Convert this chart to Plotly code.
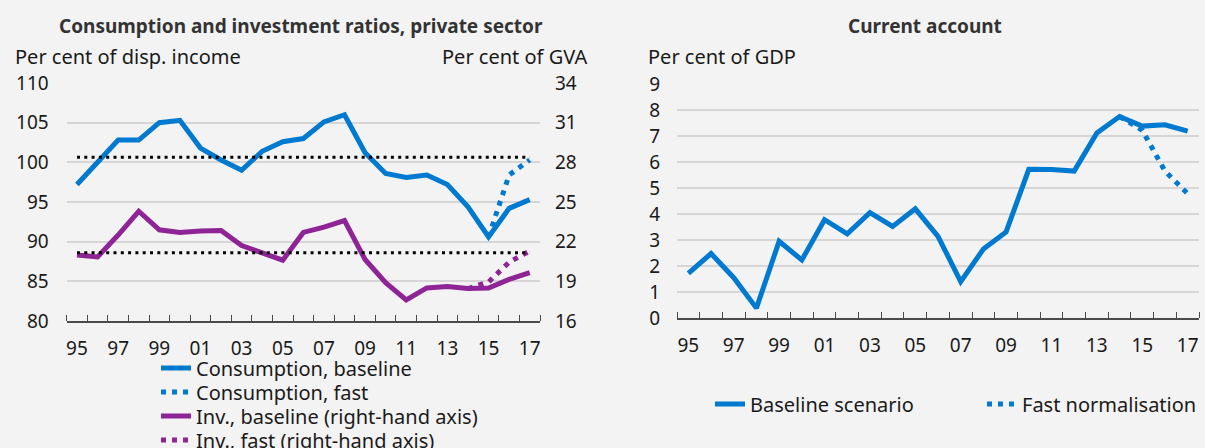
import plotly.graph_objects as go

# ---------------- data ----------------
years = [1995, 1996, 1997, 1998, 1999, 2000, 2001, 2002, 2003, 2004, 2005, 2006,
         2007, 2008, 2009, 2010, 2011, 2012, 2013, 2014, 2015, 2016, 2017]
tick_years = [1995, 1997, 1999, 2001, 2003, 2005, 2007, 2009, 2011, 2013, 2015, 2017]
tick_labels = ["95", "97", "99", "01", "03", "05", "07", "09", "11", "13", "15", "17"]

cons_base = [97.2, 99.9, 102.8, 102.8, 105.0, 105.3, 101.8, 100.3, 99.0, 101.4, 102.6, 103.0,
             105.1, 106.0, 101.2, 98.6, 98.1, 98.4, 97.2, 94.4, 90.6, 94.2, 95.3]
cons_fast_years = [2015, 2016, 2017]
cons_fast = [90.6, 98.4, 100.3]

inv_base = [21.0, 20.85, 22.5, 24.3, 22.9, 22.7, 22.8, 22.85, 21.7, 21.1, 20.6, 22.7,
            23.1, 23.6, 20.65, 18.9, 17.6, 18.5, 18.6, 18.45, 18.5, 19.15, 19.65]
inv_fast_years = [2014, 2015, 2016, 2017]
inv_fast = [18.45, 18.95, 20.45, 21.3]

avg_years = [1995, 2017]
cons_avg = [100.65, 100.65]
inv_avg = [21.17, 21.17]

ca_base = [1.72, 2.48, 1.55, 0.38, 2.95, 2.23, 3.78, 3.24, 4.05, 3.52, 4.2, 3.14,
           1.4, 2.65, 3.31, 5.72, 5.71, 5.65, 7.12, 7.75, 7.38, 7.43, 7.19]
ca_fast_years = [2014, 2015, 2016, 2017]
ca_fast = [7.75, 7.22, 5.65, 4.78]

# ---------------- style ----------------
W, H = 1205, 448
BLUE = "#0079D0"
PURPLE = "#8E2496"
FONT = "Noto Sans"
TXT = "#1a1a1a"
GRID = "#d6d6d6"
AXIS = "#4a4a4a"
BG = "#f3f3f3"
LW = 5
DOT = "5px,6px"
LEGFONT = dict(family=FONT, size=20, color=TXT)


def px_x(p):
    return p / W


def px_y(p):
    return (H - p) / H


fig = go.Figure()

# left chart
fig.add_trace(go.Scatter(x=years, y=cons_base, mode="lines", name="Consumption, baseline",
                         line=dict(color=BLUE, width=LW), xaxis="x", yaxis="y", legend="legend"))
fig.add_trace(go.Scatter(x=cons_fast_years, y=cons_fast, mode="lines", name="Consumption, fast",
                         line=dict(color=BLUE, width=LW, dash=DOT), xaxis="x", yaxis="y", legend="legend2"))
fig.add_trace(go.Scatter(x=years, y=inv_base, mode="lines", name="Inv., baseline (right-hand axis)",
                         line=dict(color=PURPLE, width=LW), xaxis="x", yaxis="y2", legend="legend3"))
fig.add_trace(go.Scatter(x=inv_fast_years, y=inv_fast, mode="lines", name="Inv., fast (right-hand axis)",
                         line=dict(color=PURPLE, width=LW, dash=DOT), xaxis="x", yaxis="y2", legend="legend4"))
fig.add_trace(go.Scatter(x=avg_years, y=cons_avg, mode="lines", showlegend=False, hoverinfo="skip",
                         line=dict(color="#000000", width=3, dash="3px,4.3px"), xaxis="x", yaxis="y"))
fig.add_trace(go.Scatter(x=avg_years, y=inv_avg, mode="lines", showlegend=False, hoverinfo="skip",
                         line=dict(color="#000000", width=3, dash="3px,4.3px"), xaxis="x", yaxis="y2"))

# right chart
fig.add_trace(go.Scatter(x=years, y=ca_base, mode="lines", name="Baseline scenario",
                         line=dict(color=BLUE, width=LW), xaxis="x2", yaxis="y3", legend="legend5"))
fig.add_trace(go.Scatter(x=ca_fast_years, y=ca_fast, mode="lines", name="Fast normalisation",
                         line=dict(color=BLUE, width=LW, dash=DOT), xaxis="x2", yaxis="y3", legend="legend6"))

tickfont = dict(family=FONT, size=19, color=TXT)

xcommon = dict(
    type="linear", range=[1994.5, 2017.5], tickmode="array",
    tickvals=tick_years, ticktext=tick_labels, ticks="", showgrid=False, zeroline=False,
    showline=True, linecolor=AXIS, linewidth=1.5, tickfont=tickfont, ticklabelstandoff=9,
    minor=dict(ticks="inside", tick0=1994.5, dtick=1, ticklen=6, tickcolor=AXIS, tickwidth=1.3,
               showgrid=False),
    fixedrange=True, automargin=False,
)


def leg(xp, yp):
    return dict(x=px_x(xp), y=px_y(yp), xanchor="left", yanchor="middle", orientation="v",
                bgcolor="rgba(0,0,0,0)", font=LEGFONT, borderwidth=0)


fig.update_layout(
    width=W, height=H,
    margin=dict(l=0, r=0, t=0, b=0, pad=0, autoexpand=False),
    paper_bgcolor=BG, plot_bgcolor=BG,
    font=dict(family=FONT, size=19, color=TXT),
    xaxis=dict(domain=[px_x(66.7), px_x(540)], anchor="y", **xcommon),
    yaxis=dict(domain=[px_y(321), px_y(83)], range=[80, 110], dtick=5, tick0=80,
               showgrid=True, gridcolor=GRID, gridwidth=1.5, zeroline=False, showline=False,
               ticks="", tickfont=tickfont, ticklabelstandoff=17, fixedrange=True, automargin=False),
    yaxis2=dict(overlaying="y", side="right", anchor="x", range=[16, 34], dtick=3, tick0=16,
                showgrid=False, zeroline=False, showline=False, ticks="",
                tickfont=tickfont, ticklabelstandoff=14, fixedrange=True, automargin=False),
    xaxis2=dict(domain=[px_x(677), px_x(1199)], anchor="y3", **xcommon),
    yaxis3=dict(domain=[px_y(318), px_y(84)], anchor="x2", range=[0, 9], dtick=1, tick0=0,
                showgrid=True, gridcolor=GRID, gridwidth=1.5, zeroline=False, showline=False,
                ticks="", tickfont=tickfont, ticklabelstandoff=16, fixedrange=True, automargin=False),
    legend=leg(156, 368),
    legend2=leg(156, 392),
    legend3=leg(156, 416),
    legend4=leg(156, 440),
    legend5=leg(710, 404),
    legend6=leg(982, 404),
    showlegend=True,
)

annotations = [
    dict(text="<b>Consumption and investment ratios, private sector</b>", x=px_x(301), y=px_y(26.5),
         xanchor="center", yanchor="middle", font=dict(family=FONT, size=19, color="#333333")),
    dict(text="<b>Current account</b>", x=px_x(925), y=px_y(26.5),
         xanchor="center", yanchor="middle", font=dict(family=FONT, size=19, color="#333333")),
    dict(text="Per cent of disp. income", x=px_x(13), y=px_y(56.7), xanchor="left", yanchor="middle",
         font=dict(family=FONT, size=20, color=TXT)),
    dict(text="Per cent of GVA", x=px_x(589), y=px_y(56.7), xanchor="right", yanchor="middle",
         font=dict(family=FONT, size=20, color=TXT)),
    dict(text="Per cent of GDP", x=px_x(646), y=px_y(56.7), xanchor="left", yanchor="middle",
         font=dict(family=FONT, size=20, color=TXT)),
]
for a in annotations:
    a.update(xref="paper", yref="paper", showarrow=False)
fig.update_layout(annotations=annotations)

fig.write_html("out.html", config={"displayModeBar": False},
               post_script="document.body.style.margin='0';")
